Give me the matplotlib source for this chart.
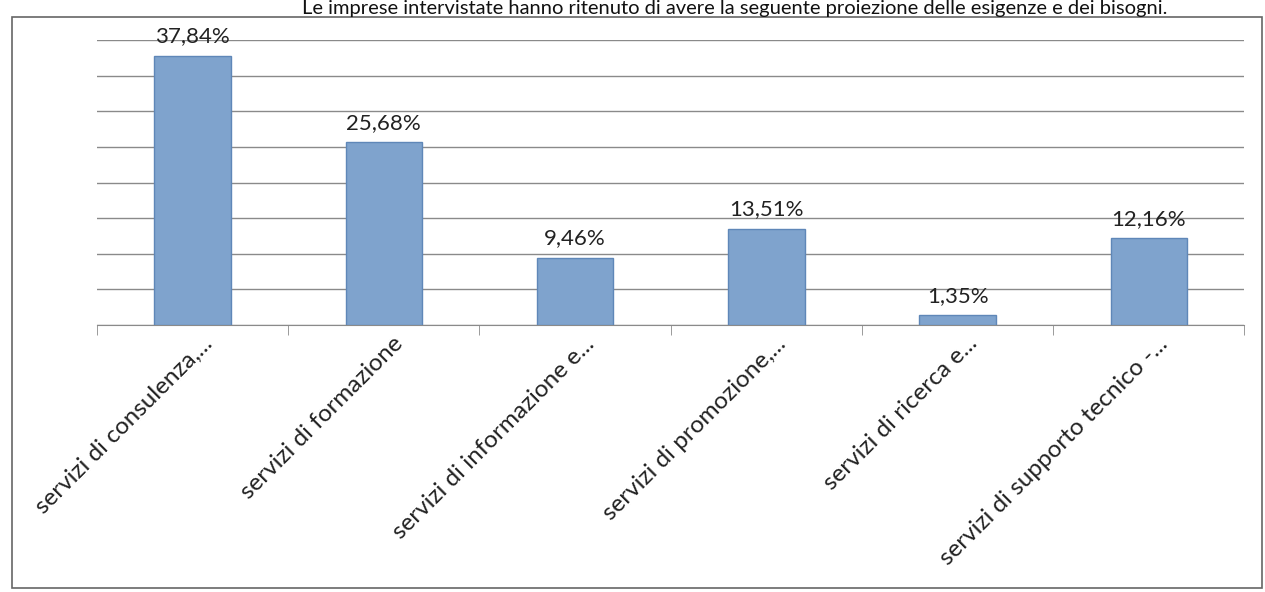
import matplotlib.pyplot as plt
from matplotlib.patches import Rectangle
from matplotlib.transforms import ScaledTranslation
import numpy as np

categories = [
    "servizi di consulenza,...",
    "servizi di formazione",
    "servizi di informazione e...",
    "servizi di promozione,...",
    "servizi di ricerca e...",
    "servizi di supporto tecnico -...",
]
values = [37.84, 25.68, 9.46, 13.51, 1.35, 12.16]
value_labels = ["37,84%", "25,68%", "9,46%", "13,51%", "1,35%", "12,16%"]
header = "Le imprese intervistate hanno ritenuto di avere la seguente proiezione delle esigenze e dei bisogni."

plt.rcParams['font.family'] = ['Lato', 'DejaVu Sans']

fig = plt.figure(figsize=(12.65, 5.92), dpi=100)
ax = fig.add_axes([0.0767, 0.451, 0.907, 0.481])

x = np.arange(len(categories))
ax.bar(x, values, width=0.4, color='#7fa3cd', edgecolor='#5f87b8', linewidth=1, zorder=3)

for xi, v, lab in zip(x, values, value_labels):
    ax.text(xi, v + 1.3, lab, ha='center', va='bottom', fontsize=16, color='#222222', zorder=4)

ax.set_xlim(-0.5, len(categories) - 0.5)
ax.set_ylim(0, 40)
ax.set_yticks(np.arange(0, 41, 5))
ax.set_yticklabels([])
ax.tick_params(axis='y', length=0)
ax.yaxis.grid(True, color='#8a8a8a', linewidth=1)
ax.set_axisbelow(True)

for s in ['top', 'right', 'left']:
    ax.spines[s].set_visible(False)
ax.spines['bottom'].set_color('#8a8a8a')

ax.set_xticks(x)
ax.set_xticklabels(categories, rotation=45, ha='right', va='center',
                   rotation_mode='anchor', fontsize=17.5, color='#222222')
ax.tick_params(axis='x', which='major', length=0, pad=11)
ax.set_xticks(np.arange(-0.5, len(categories), 1), minor=True)
ax.tick_params(axis='x', which='minor', length=7, color='#8a8a8a')
offset = ScaledTranslation(0.16, 0, fig.dpi_scale_trans)
for lbl in ax.get_xticklabels():
    lbl.set_transform(lbl.get_transform() + offset)

fig.patches.append(Rectangle((0.0095, 0.0068), 0.988, 0.964, transform=fig.transFigure,
                             fill=False, edgecolor='#666666', linewidth=1.2))

fig.text(0.923, 1 - 14 / 592, header, ha='right', va='baseline', fontsize=14.5, color='#111111')

fig.savefig('out.png', dpi=100)
